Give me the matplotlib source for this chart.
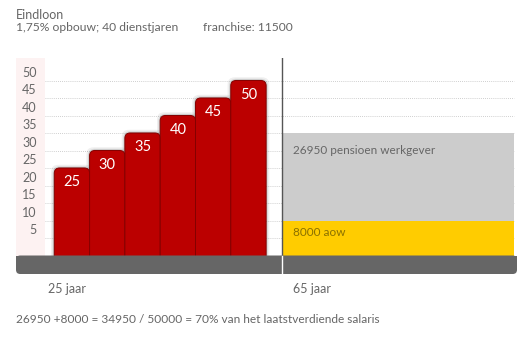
import matplotlib
matplotlib.use('Agg')
import matplotlib.pyplot as plt
from matplotlib.patches import FancyBboxPatch, Rectangle

# salary bars (thousands), as drawn
bar_values = [25, 30, 35, 40, 45, 50]
bar_labels = ['25', '30', '35', '40', '45', '50']
y_ticks = [5, 10, 15, 20, 25, 30, 35, 40, 45, 50]

# pension stack at 65 (drawn heights) and its captions
stack_heights = [10, 25]
stack_labels = ['8000 aow', '26950 pensioen werkgever']
stack_colors = ['#ffcc00', '#cccccc']
stack_text_colors = ['#8a7000', '#666666']

title = 'Eindloon'
subtitle = '1,75% opbouw; 40 dienstjaren'
franchise = 'franchise: 11500'
x_labels = ['25 jaar', '65 jaar']
footer = '26950 +8000 = 34950 / 50000 = 70% van het laatstverdiende salaris'

W, H = 520, 347
plt.rcParams['font.family'] = ['Lato', 'DejaVu Sans']
TXT = '#666666'


def fx(px):
    return px / W


def fy(py):
    return 1 - py / H


fig = plt.figure(figsize=(W / 100, H / 100), dpi=100)
fig.patch.set_facecolor('white')

# axes: left 16px, right 517px, value 0 at y=255.5px, 3.5px per unit
slot = 35.3
ax_left, ax_right, ax_top, ax_bot = 16, 517, 58, 274
ax = fig.add_axes([fx(ax_left), fy(ax_bot), (ax_right - ax_left) / W, (ax_bot - ax_top) / H])
ax.set_xlim(0, (ax_right - ax_left) / slot)
ax.set_ylim((255.5 - ax_bot) / 3.5, (255.5 - ax_top) / 3.5)
ax.axis('off')
aspect = slot / 3.5

# pink band behind the tick labels
ax.add_patch(Rectangle((0, 0), 29 / slot, ax.get_ylim()[1], color='#fdf2f2', lw=0, zorder=0))

for v in y_ticks:
    ax.plot([29 / slot, ax.get_xlim()[1] - 3 / slot], [v, v], color='#c0c0c0',
            lw=0.6, ls=(0, (1, 1.5)), zorder=1)
    ax.text(20.5 / slot, v + 2.2, str(v), ha='right', va='center', color=TXT, fontsize=9)

# red bars with rounded tops
first = (54.3 - ax_left) / slot + 0.5
xs = [first + i for i in range(len(bar_values))]
bars = ax.bar(xs, bar_values, width=1.0, color='#bb0000', zorder=3)
for b, lab in zip(bars, bar_labels):
    x, w, h = b.get_x(), b.get_width(), b.get_height()
    b.remove()
    for grow, a in [(0.09, 0.08), (0.05, 0.12), (0.025, 0.18)]:
        ax.add_patch(FancyBboxPatch((x - grow, -3), w + 2 * grow, h + 3 + grow * aspect,
                                    boxstyle='round,pad=0,rounding_size=0.2',
                                    mutation_aspect=aspect, fc='#333333', ec='none',
                                    alpha=a, zorder=2))
    ax.add_patch(FancyBboxPatch((x, -3), w, h + 3,
                                boxstyle='round,pad=0,rounding_size=0.15',
                                mutation_aspect=aspect, fc='#bb0000', ec='#850000',
                                lw=0.7, zorder=3))
    ax.text(x + w / 2, h - 4.1, lab, ha='center', va='center', color='white',
            fontsize=10.5, zorder=4)

# pension stack at 65
split = (282 - ax_left) / slot
box_right = (514 - ax_left) / slot
bottom = 0
for hgt, lab, col, tcol in zip(stack_heights, stack_labels, stack_colors, stack_text_colors):
    ax.bar(split, hgt, bottom=bottom, width=box_right - split, align='edge',
           color=col, zorder=3)
    top = bottom + hgt
    ax.text(split + 11 / slot, top - (3.5 if hgt < 15 else 5), lab, ha='left', va='center',
            color=tcol, fontsize=8.5, zorder=4)
    bottom = top

ax.plot([split, split], [0, ax.get_ylim()[1]], color='#555555', lw=1, zorder=5)

# grey base
y0 = ax.get_ylim()[0]
xr = ax.get_xlim()[1]
ax.add_patch(FancyBboxPatch((0, y0), xr, -y0, boxstyle='round,pad=0,rounding_size=0.12',
                            mutation_aspect=aspect, fc='#666666', ec='none', zorder=6,
                            clip_on=False))
ax.add_patch(Rectangle((0, y0 / 2), xr, -y0 / 2, fc='#666666', ec='none', zorder=6))
ax.plot([split, split], [y0, 0], color='white', lw=1, zorder=7, clip_on=False)

# texts
fig.text(fx(16), fy(19), title, color=TXT, fontsize=9, va='baseline')
fig.text(fx(16), fy(31), subtitle, color=TXT, fontsize=8.7, va='baseline')
fig.text(fx(203), fy(31), franchise, color=TXT, fontsize=8.7, va='baseline')
fig.text(fx(47.5), fy(293), x_labels[0], color=TXT, fontsize=9, va='baseline')
fig.text(fx(293), fy(293), x_labels[1], color=TXT, fontsize=9, va='baseline')
fig.text(fx(16), fy(323), footer, color=TXT, fontsize=8.6, va='baseline')

fig.savefig('out.png', dpi=100)
